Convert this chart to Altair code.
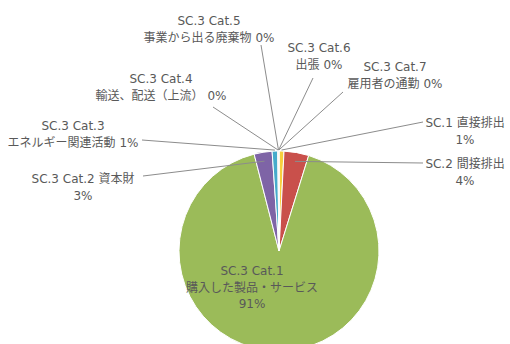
import math
import altair as alt
import pandas as pd

# Emission shares by scope / category (percent)
codes = ["SC.1", "SC.2", "SC.3 Cat.1", "SC.3 Cat.2", "SC.3 Cat.3",
         "SC.3 Cat.4", "SC.3 Cat.5", "SC.3 Cat.6", "SC.3 Cat.7"]
names = ["直接排出", "間接排出", "購入した製品・サービス", "資本財", "エネルギー関連活動",
         "輸送、配送（上流）", "事業から出る廃棄物", "出張", "雇用者の通勤"]
shares = [0.8, 4.0, 91.2, 2.9, 0.9, 0.1, 0.03, 0.03, 0.04]
colors = ["#F7CF3D", "#C9504B", "#9BBB59", "#7E64A6", "#46ABCB",
          "#F29B4B", "#4F81BD", "#A5A5A5", "#8E6CB0"]

# Layout of the pie and of the labels (pixels)
CX, CY, R = 279, 251, 100
TEXT_COLOR = "#595959"
FONT = "DejaVu Sans, Noto Sans CJK JP"
LINE_H = 16.5
# index -> (center x, first line y, style, leader end x, leader end y)
label_layout = {
    0: (465, 123, "a", 423, 122),
    1: (465, 164, "a", 423, 163),
    2: (252, 271, "c", None, None),
    3: (83, 179, "a", 143, 176),
    4: (73, 126, "b", 142, 140),
    5: (161, 79, "b", 213, 107),
    6: (209, 21, "b", 261, 45),
    7: (319, 48, "b", 313, 78),
    8: (395, 67, "b", 343, 92),
}

total = sum(shares)
pie_df = pd.DataFrame({
    "idx": list(range(len(codes))),
    "code": codes,
    "share": shares,
})

text_rows, line_rows = [], []
cum = 0.0
for i, (code, name, share) in enumerate(zip(codes, names, shares)):
    mid = (cum + share / 2) / total * 2 * math.pi
    cum += share
    pct = f"{round(share)}%"
    x, y0, style, ex, ey = label_layout[i]
    if style == "a":
        lines = [f"{code} {name}", pct]
    elif style == "b":
        lines = [code, f"{name} {pct}"]
    else:
        lines = [code, name, pct]
    for k, t in enumerate(lines):
        text_rows.append({"x": x, "y": y0 + k * LINE_H, "t": t})
    if ex is not None:
        r = R + 1 if share < 2 else R - 9
        line_rows.append({
            "x": ex, "y": ey,
            "x2": CX + r * math.sin(mid), "y2": CY - r * math.cos(mid),
        })

text_df = pd.DataFrame(text_rows)
line_df = pd.DataFrame(line_rows)

pie = alt.Chart(pie_df).mark_arc(radius=R, stroke="white", strokeWidth=1).encode(
    theta=alt.Theta("share:Q", stack=True),
    order=alt.Order("idx:Q"),
    color=alt.Color("code:N", scale=alt.Scale(domain=codes, range=colors), legend=None),
    x=alt.value(CX),
    y=alt.value(CY),
)

leaders = alt.Chart(line_df).mark_rule(color="#8C8C8C", strokeWidth=1).encode(
    x=alt.X("x:Q", scale=None),
    y=alt.Y("y:Q", scale=None),
    x2="x2:Q",
    y2="y2:Q",
)

labels = alt.Chart(text_df).mark_text(
    font=FONT, fontSize=12, color=TEXT_COLOR, align="center", baseline="middle"
).encode(
    x=alt.X("x:Q", scale=None),
    y=alt.Y("y:Q", scale=None),
    text="t:N",
)

chart = alt.layer(pie, leaders, labels).properties(
    width=510, height=344, padding=0,
    autosize=alt.AutoSizeParams(type="none"),
    background="white",
).configure_view(stroke=None)

chart.save("out.html", embed_options={"renderer": "svg", "actions": False})
